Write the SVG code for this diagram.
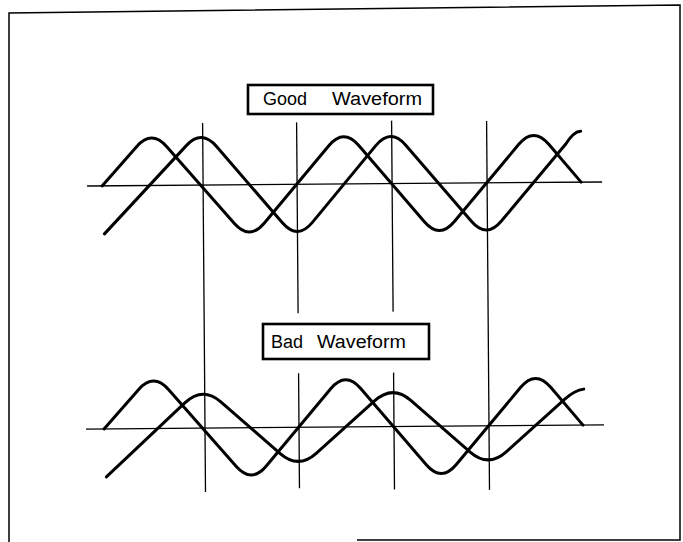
<svg xmlns="http://www.w3.org/2000/svg" width="683" height="542" viewBox="0 0 683 542">
  <style>
    .wave { fill: none; stroke: #000; stroke-width: 3; stroke-linejoin: round; stroke-linecap: round; }
    .thin { fill: none; stroke: #000; stroke-width: 1.3; }
    .frame { fill: none; stroke: #000; stroke-width: 1.5; }
    .box { fill: #fff; stroke: #000; stroke-width: 2.6; }
    .lbl { font-family: "Liberation Sans", Arial, sans-serif; font-size: 18px; fill: #000; white-space: pre; }
  </style>
  <rect width="683" height="542" fill="#fff"/>
  <g id="frame">
    <path class="frame" d="M9,542 L9,13 L680,5 L680,540 L357,540"/>
  </g>
  <g id="plot" transform="rotate(-0.45 345 300)">
    <g id="connectors">
      <line class="thin" x1="88" y1="184" x2="603" y2="184"/>
      <line class="thin" x1="85" y1="427" x2="603" y2="427"/>
      <line class="thin" x1="204" y1="122" x2="204" y2="491"/>
      <line class="thin" x1="298" y1="122" x2="298" y2="313"/>
      <line class="thin" x1="298" y1="373" x2="298" y2="488"/>
      <line class="thin" x1="393" y1="121" x2="393" y2="312"/>
      <line class="thin" x1="393" y1="373" x2="393" y2="490"/>
      <line class="thin" x1="488" y1="122" x2="488" y2="491"/>
    </g>
    <g id="good-waves">
      <path class="wave" d="M103,184 L138,144.8 Q153,128 168,145.3 L235,222.7 Q250,240 265,222.3 L330,145.7 Q345,128 360,145.7 L425,222.3 Q440,240 455,222.3 L520,145.7 Q535,128 550,145.9 L582,184"/>
      <path class="wave" d="M105,232 L188,143.9 Q203,128 218,145.7 L283,222.3 Q298,240 313,222.1 L377,145.9 Q392,128 407,145.7 L472,222.3 Q487,240 502,222.3 L567,145.7 Q575,133 582,133"/>
    </g>
    <g id="bad-waves">
      <path class="wave" transform="translate(0 243)" d="M103,184 L138,144.8 Q153,128 168,145.3 L235,222.7 Q250,240 265,222.3 L330,145.7 Q345,128 360,145.7 L425,222.3 Q440,240 455,222.3 L520,145.7 Q535,128 550,145.9 L582,184"/>
      <path class="wave" d="M105,475 L184,401.7 Q202,385 220,400.9 L279,453.1 Q297,469 315,453.1 L374,400.9 Q392,385 410,400.9 L469,453.1 Q487,469 505,453.1 L564,400.9 Q574,392 583,391"/>
    </g>
  </g>
  <g id="label-good">
    <rect class="box" x="248" y="85" width="185" height="29"/>
    <text class="lbl" x="263" y="105">Good</text>
    <text class="lbl" x="332" y="105" textLength="90" lengthAdjust="spacingAndGlyphs">Waveform</text>
  </g>
  <g id="label-bad">
    <rect class="box" x="263" y="324" width="166" height="35"/>
    <text class="lbl" x="271" y="348">Bad</text>
    <text class="lbl" x="317" y="348" textLength="89" lengthAdjust="spacingAndGlyphs">Waveform</text>
  </g>
</svg>
